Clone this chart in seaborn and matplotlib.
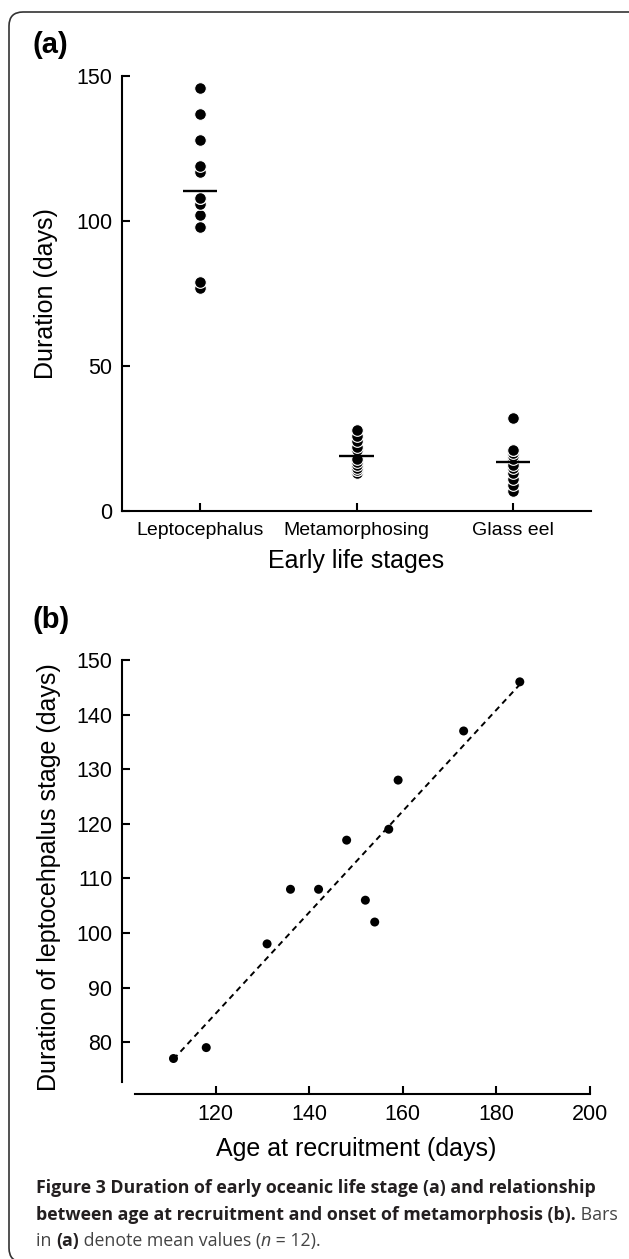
import numpy as np
import pandas as pd
import matplotlib
matplotlib.use("Agg")
import matplotlib.pyplot as plt
import seaborn as sns
from matplotlib.patches import FancyBboxPatch
from matplotlib.transforms import IdentityTransform

# data
stages = ["Leptocephalus", "Metamorphosing", "Glass eel"]
lepto_days = [146, 137, 128, 119, 117, 108, 108, 106, 102, 98, 79, 77]
metamorph_days = [28, 26, 24, 22, 21, 18, 17, 16, 15, 14, 14, 13]
glass_eel_days = [32, 21, 21, 20, 19, 18, 16, 15, 13, 11, 9, 7]
age_recruit = [185, 173, 159, 157, 148, 136, 142, 152, 154, 131, 118, 111]

W, H = 629, 1259

sns.set_theme(style="ticks")
plt.rcParams["font.family"] = ["Liberation Sans", "DejaVu Sans"]
plt.rcParams["text.color"] = "black"
plt.rcParams["axes.labelcolor"] = "black"
plt.rcParams["xtick.color"] = "black"
plt.rcParams["ytick.color"] = "black"
plt.rcParams["axes.edgecolor"] = "black"


def style_axis(ax):
    sns.despine(ax=ax)
    for s in ("left", "bottom"):
        ax.spines[s].set_linewidth(1.5)
    ax.tick_params(direction="in", length=6, width=1.5, labelsize=15.5, pad=7)


fig = plt.figure(figsize=(W / 100, H / 100), dpi=100)

# ---- panel (a)
df_a = pd.DataFrame({
    "stage": np.repeat(stages, 12),
    "days": lepto_days + metamorph_days + glass_eel_days,
}).sort_values("days")

ax_a = fig.add_axes([122 / W, 1 - 511 / H, (591 - 122) / W, (511 - 76) / H])
sns.stripplot(data=df_a, x="stage", y="days", order=stages, jitter=False,
              color="black", size=8.4, edgecolor="white", linewidth=0.8, ax=ax_a)
means = df_a.groupby("stage")["days"].mean().reindex(stages)
pos = np.arange(len(stages))
ax_a.hlines(means.values, pos - 0.11, pos + 0.11, color="black", lw=1.7, zorder=5)
ax_a.set_xlim(-0.5, 2.5)
ax_a.set_ylim(0, 150)
ax_a.set_yticks([0, 50, 100, 150])
style_axis(ax_a)
ax_a.tick_params(axis="x", labelsize=14, pad=8)
ax_a.set_xlabel("Early life stages", fontsize=18, labelpad=7)
ax_a.set_ylabel("Duration (days)", fontsize=18, labelpad=13)

# ---- panel (b)
ax_b = fig.add_axes([122 / W, 1 - 1094 / H, (590 - 122) / W, (1094 - 660) / H])
sns.regplot(x=age_recruit, y=lepto_days, ci=None, color="black", ax=ax_b,
            scatter_kws={"s": 42, "edgecolor": "none", "alpha": 1},
            line_kws={"lw": 1.4, "dashes": (3, 2.3)})
ax_b.set_xlim(100, 200)
ax_b.set_ylim(70.5, 150)
ax_b.set_xticks([120, 140, 160, 180, 200])
ax_b.set_yticks(range(80, 151, 10))
style_axis(ax_b)
ax_b.spines["left"].set_bounds(72.7, 150)
ax_b.spines["bottom"].set_bounds(102.7, 200)
ax_b.set_xlabel("Age at recruitment (days)", fontsize=18, labelpad=9)
ax_b.set_ylabel("Duration of leptocehpalus stage (days)", fontsize=18, labelpad=11)

fig.text(33 / W, 1 - 45 / H, "(a)", fontsize=21, weight="bold", va="center")
fig.text(33 / W, 1 - 620 / H, "(b)", fontsize=21, weight="bold", va="center")

# frame round the figure
frame = FancyBboxPatch((9, -3), 660, 1250, boxstyle="round,pad=0,rounding_size=14",
                       transform=IdentityTransform(), fill=False,
                       edgecolor="#333333", lw=1.2)
fig.patches.append(frame)

# caption, drawn run by run
renderer = fig.canvas.get_renderer()
bold = {"weight": "bold", "color": "#231f20"}
plain = {"color": "#444444"}
ital = {"style": "italic", "color": "#444444"}
caption = [
    (1193, [("Figure 3 Duration of early oceanic life stage (a) and relationship", bold)]),
    (1220, [("between age at recruitment and onset of metamorphosis (b).", bold),
            (" Bars", plain)]),
    (1246, [("in ", plain), ("(a)", bold), (" denote mean values (", plain),
            ("n", ital), (" = 12).", plain)]),
]
for y_px, runs in caption:
    x_px = 36
    for txt, kw in runs:
        t = fig.text(x_px / W, 1 - y_px / H, txt, fontsize=12.75, family="Open Sans",
                     va="baseline", ha="left", **kw)
        x_px += t.get_window_extent(renderer).width

fig.savefig("out.png", dpi=100)
